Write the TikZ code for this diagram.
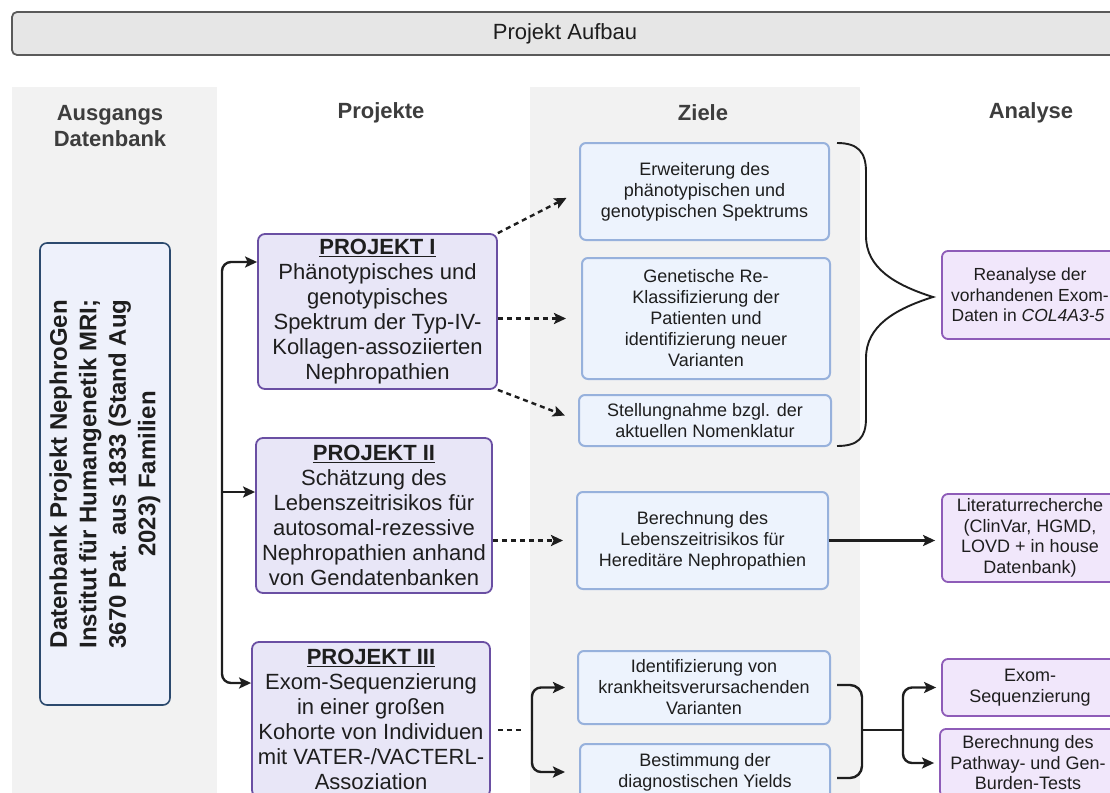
\documentclass[tikz,border=0pt]{standalone}
\usepackage{fontspec}
\setmainfont{Liberation Sans}
\usetikzlibrary{arrows.meta,positioning,calc}
\definecolor{colbg}{HTML}{F2F2F2}
\definecolor{titlefill}{HTML}{E6E6E6}
\definecolor{titleline}{HTML}{5A5A5A}
\definecolor{headgray}{HTML}{3D3D3D}
\definecolor{ink}{HTML}{1E1E1E}
\definecolor{dbfill}{HTML}{EEF1FB}
\definecolor{dbline}{HTML}{2C4A6E}
\definecolor{projfill}{HTML}{E8E6F7}
\definecolor{projline}{HTML}{6A4FA3}
\definecolor{zielfill}{HTML}{EDF3FD}
\definecolor{zielline}{HTML}{97B1DC}
\definecolor{anafill}{HTML}{F1E7FB}
\definecolor{analine}{HTML}{8E5CB8}
\tikzset{
  titlebar/.style={draw=titleline,fill=titlefill,rounded corners=5pt,line width=1.8pt,
    minimum width=1106pt,minimum height=43pt,inner sep=0pt,font=\fontsize{22}{26}\selectfont,text=ink},
  head/.style  ={font=\bfseries\fontsize{22}{26}\selectfont,text=headgray,align=center},
  dbbox/.style ={draw=dbline,fill=dbfill,rounded corners=7pt,line width=1.6pt,rotate=90,
    minimum width=462pt,minimum height=130pt,inner sep=0pt,align=center,
    font=\bfseries\fontsize{24}{29.5}\selectfont,text=ink},
  proj/.style  ={draw=projline,fill=projfill,rounded corners=7pt,line width=1.8pt,
    minimum height=155pt,inner sep=0pt,align=center,font=\fontsize{22}{25}\selectfont,text=ink},
  ziel/.style  ={draw=zielline,fill=zielfill,rounded corners=6pt,line width=2pt,
    inner sep=0pt,align=center,font=\fontsize{18}{21}\selectfont,text=ink},
  ana/.style   ={draw=analine,fill=anafill,rounded corners=6pt,line width=1.8pt,
    minimum width=176pt,inner sep=0pt,align=center,font=\fontsize{18}{20.5}\selectfont,text=ink},
  ln/.style    ={draw=ink,line width=2.4pt},
  ar/.style    ={ln,-{Stealth[length=12pt,width=11pt,inset=2.5pt]}},
  dashar/.style={ar,dash pattern=on 5pt off 4pt},
}
\begin{document}
\begin{tikzpicture}[x=1pt,y=-1pt]
  \useasboundingbox (0,0) rectangle (1110,792);
  % Spalten
  \fill[colbg] (12,87) rectangle (217,800);
  \fill[colbg] (530,87) rectangle (860,800);
  \node[titlebar] (T) at (565,33.5) {Projekt Aufbau};
  \node[head] (H1) at (110,126) {Ausgangs\\Datenbank};
  \node[head] (H2) at (381,113) {Projekte};
  \node[head] (H3) at (703,113) {Ziele};
  \node[head] (H4) at (1031,113) {Analyse};
  % Datenbank
  \node[dbbox] (DB) at (105,474) {Datenbank Projekt NephroGen\\Institut für Humangenetik MRI;\\3670 Pat. aus 1833 (Stand Aug\\2023) Familien};
  % Projekte
  \node[proj,minimum width=239pt] (P1) at (377.5,311.5) {\underline{\textbf{PROJEKT I}}\\Phänotypisches und\\genotypisches\\Spektrum der Typ-IV-\\Kollagen-assoziierten\\Nephropathien};
  \node[proj,minimum width=236pt] (P2) at (374,515.5) {\underline{\textbf{PROJEKT II}}\\Schätzung des\\Lebenszeitrisikos für\\autosomal-rezessive\\Nephropathien anhand\\von Gendatenbanken};
  \node[proj,minimum width=238pt] (P3) at (371,719.5) {\underline{\textbf{PROJEKT III}}\\Exom-Sequenzierung\\in einer großen\\Kohorte von Individuen\\mit VATER-/VACTERL-\\Assoziation};
  % Ziele
  \node[ziel,minimum width=249pt,minimum height=97pt] (Z1) at (704.5,191.5) {Erweiterung des\\phänotypischen und\\genotypischen Spektrums};
  \node[ziel,minimum width=248pt,minimum height=121pt] (Z2) at (706,318.5) {Genetische Re-\\Klassifizierung der\\Patienten und\\identifizierung neuer\\Varianten};
  \node[ziel,minimum width=252pt,minimum height=51pt] (Z3) at (705,420.5) {Stellungnahme bzgl. der\\aktuellen Nomenklatur};
  \node[ziel,minimum width=251pt,minimum height=97pt] (Z4) at (702.5,540.5) {Berechnung des\\Lebenszeitrisikos für\\Hereditäre Nephropathien};
  \node[ziel,minimum width=252pt,minimum height=73pt] (Z5) at (704,687.5) {Identifizierung von\\krankheitsverursachenden\\Varianten};
  \node[ziel,minimum width=250pt,minimum height=56pt] (Z6) at (705,772) {Bestimmung der\\diagnostischen Yields};
  % Analyse
  \node[ana,minimum height=88pt,font=\fontsize{17.5}{20.5}\selectfont] (A1) at (1030,295) {Reanalyse der\\vorhandenen Exom-\\Daten in \textit{COL4A3-5}\hspace*{4pt}};
  \node[ana,minimum height=88pt] (A2) at (1030,538) {Literaturrecherche\\(ClinVar, HGMD,\\LOVD + in house\\Datenbank)};
  \node[ana,minimum height=57pt] (A3) at (1030,687.5) {Exom-\\Sequenzierung};
  \node[ana,minimum height=68pt] (A4) at (1028,763) {Berechnung des\\Pathway- und Gen-\\Burden-Tests};
  % Verbindungen
  \coordinate (dbfork) at (222,492);
  \draw[ar,rounded corners=9pt] (dbfork) |- ([yshift=49.5pt]P1.west);
  \draw[ar] (dbfork) -- (dbfork -| P2.west);
  \draw[ar,rounded corners=9pt] (dbfork) |- ([yshift=36.5pt]P3.west);
  \draw[dashar,shorten >=14pt] (P1.north east) -- (Z1.west);
  \draw[dashar,shorten >=15pt] (P1.east |- Z2.west) -- (Z2.west);
  \draw[dashar,shorten >=14pt] (P1.south east) -- (Z3.west);
  \draw[dashar,shorten >=13pt] (P2.east |- Z4.west) -- (Z4.west);
  \coordinate (p3fork) at (532,730);
  \draw[ln,dash pattern=on 5pt off 4pt,shorten <=7pt,shorten >=10pt] (P3.east |- p3fork) -- (p3fork);
  \draw[ar,rounded corners=9pt,shorten >=12pt] (p3fork) |- (Z5.west);
  \draw[ar,rounded corners=9pt,shorten >=14pt] (p3fork) |- (Z6.west);
  \draw[ar,shorten >=6pt] (Z4.east) -- (Z4.east -| A2.west);
  % Klammern
  \draw[ln,line width=1.9pt] (837,143) .. controls (858,143) and (866,152) .. (866,172)
    -- (866,236) .. controls (866,268) and (895,285) .. (933,297)
    .. controls (895,309) and (866,326) .. (866,358)
    -- (866,418) .. controls (866,438) and (858,446) .. (837,446);
  \coordinate (zfork) at (862,730);
  \coordinate (afork) at (903,730);
  \draw[ln,rounded corners=12pt] (837,685) -| (zfork) |- (837,778);
  \draw[ln] (zfork) -- (afork);
  \draw[ar,rounded corners=9pt,shorten >=5pt] (afork) |- (A3.west);
  \draw[ar,rounded corners=9pt,shorten >=5pt] (afork) |- (A4.west);
\end{tikzpicture}
\end{document}
